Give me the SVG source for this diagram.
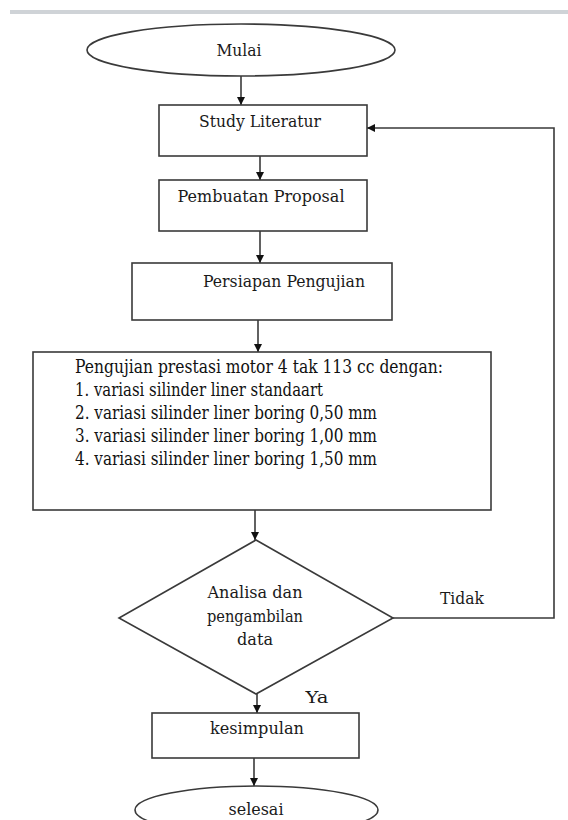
<svg xmlns="http://www.w3.org/2000/svg" width="568" height="820" viewBox="0 0 568 820">
<style>
.shape{fill:#fff;stroke:#3a3a3a;stroke-width:1.6}
.line{fill:none;stroke:#3a3a3a;stroke-width:1.6}
.lbl{font-size:16px;fill:#1a1a1a;text-anchor:middle}
.body{font-size:18px;fill:#111}
</style>
<defs>
<marker id="ah" viewBox="0 0 10 10" refX="10" refY="5" markerWidth="8" markerHeight="8" markerUnits="userSpaceOnUse" orient="auto">
<path d="M0,0 L10,5 L0,10 z" fill="#111"/>
</marker>
</defs>
<rect x="10" y="10" width="558" height="4" fill="#cfd3d7"/>
<g id="connectors" font-family="DejaVu Serif, Liberation Serif, serif">
<line class="line" x1="241" y1="76" x2="241" y2="105" marker-end="url(#ah)"/>
<line class="line" x1="260" y1="156" x2="260" y2="180" marker-end="url(#ah)"/>
<line class="line" x1="260" y1="231" x2="260" y2="263" marker-end="url(#ah)"/>
<line class="line" x1="258" y1="320" x2="258" y2="352" marker-end="url(#ah)"/>
<line class="line" x1="255" y1="510" x2="255" y2="540" marker-end="url(#ah)"/>
<polyline class="line" points="393,618 554,618 554,128 367,128" marker-end="url(#ah)"/>
<line class="line" x1="257" y1="694" x2="257" y2="713" marker-end="url(#ah)"/>
<line class="line" x1="254" y1="758" x2="254" y2="786" marker-end="url(#ah)"/>
<text class="lbl" x="462" y="604" textLength="44" lengthAdjust="spacingAndGlyphs">Tidak</text>
<text class="lbl" x="317" y="703" textLength="23" lengthAdjust="spacingAndGlyphs">Ya</text>
</g>
<g id="mulai" font-family="DejaVu Serif, Liberation Serif, serif">
<ellipse class="shape" cx="241" cy="50" rx="154" ry="26"/>
<text class="lbl" x="239" y="56" textLength="45" lengthAdjust="spacingAndGlyphs">Mulai</text>
</g>
<g id="study" font-family="DejaVu Serif, Liberation Serif, serif">
<rect class="shape" x="159" y="105" width="208" height="51"/>
<text class="lbl" x="260" y="127" textLength="122" lengthAdjust="spacingAndGlyphs">Study Literatur</text>
</g>
<g id="proposal" font-family="DejaVu Serif, Liberation Serif, serif">
<rect class="shape" x="159" y="180" width="208" height="51"/>
<text class="lbl" x="261" y="202" textLength="167" lengthAdjust="spacingAndGlyphs">Pembuatan Proposal</text>
</g>
<g id="persiapan" font-family="DejaVu Serif, Liberation Serif, serif">
<rect class="shape" x="132" y="263" width="260" height="57"/>
<text class="lbl" x="284" y="287" textLength="162" lengthAdjust="spacingAndGlyphs">Persiapan Pengujian</text>
</g>
<g id="pengujian" font-family="DejaVu Serif, Liberation Serif, serif">
<rect class="shape" x="33" y="352" width="458" height="158"/>
<text class="body" x="75" y="373" textLength="368" lengthAdjust="spacingAndGlyphs">Pengujian prestasi motor 4 tak 113 cc dengan:</text>
<text class="body" x="75" y="396" textLength="248" lengthAdjust="spacingAndGlyphs">1. variasi silinder liner standaart</text>
<text class="body" x="75" y="419" textLength="302" lengthAdjust="spacingAndGlyphs">2. variasi silinder liner boring 0,50 mm</text>
<text class="body" x="75" y="442" textLength="302" lengthAdjust="spacingAndGlyphs">3. variasi silinder liner boring 1,00 mm</text>
<text class="body" x="75" y="465" textLength="302" lengthAdjust="spacingAndGlyphs">4. variasi silinder liner boring 1,50 mm</text>
</g>
<g id="analisa" font-family="DejaVu Serif, Liberation Serif, serif">
<polygon class="shape" points="256,540 393,618 256,694 119,618"/>
<text class="lbl" x="255" y="598" textLength="95" lengthAdjust="spacingAndGlyphs">Analisa dan</text>
<text class="lbl" x="255" y="622" textLength="96" lengthAdjust="spacingAndGlyphs">pengambilan</text>
<text class="lbl" x="255" y="645" textLength="36" lengthAdjust="spacingAndGlyphs">data</text>
</g>
<g id="kesimpulan" font-family="DejaVu Serif, Liberation Serif, serif">
<rect class="shape" x="152" y="713" width="207" height="45"/>
<text class="lbl" x="257" y="734" textLength="94" lengthAdjust="spacingAndGlyphs">kesimpulan</text>
</g>
<g id="selesai" font-family="DejaVu Serif, Liberation Serif, serif">
<ellipse class="shape" cx="256.5" cy="810" rx="121.5" ry="24"/>
<text class="lbl" x="256" y="815" textLength="55" lengthAdjust="spacingAndGlyphs">selesai</text>
</g>
</svg>
